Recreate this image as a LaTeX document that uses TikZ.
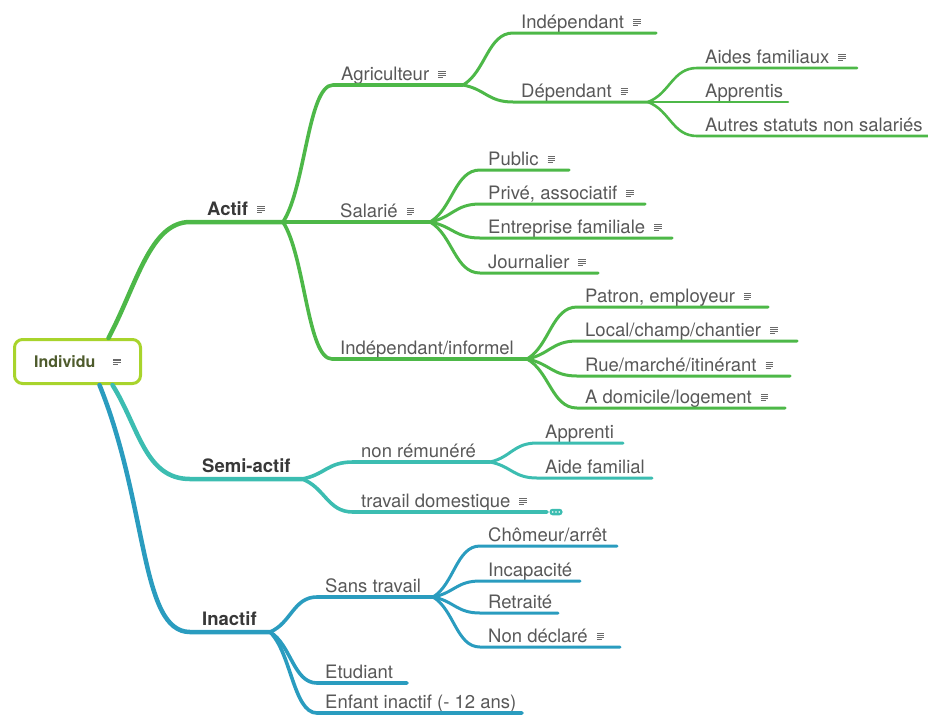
\documentclass[tikz,border=0pt]{standalone}
\usepackage{fontspec}
\setmainfont{TeX Gyre Heros}
\usepackage{tikz}
\usetikzlibrary{calc, positioning}
\definecolor{actgreen}{HTML}{4DB848}
\definecolor{semiteal}{HTML}{3CBDB1}
\definecolor{inablue}{HTML}{2A9CBF}
\definecolor{rootlime}{HTML}{A8D42C}
\definecolor{rootolive}{HTML}{4E5B2C}
\definecolor{labelgray}{HTML}{585858}
\definecolor{notegray}{HTML}{6A6A6A}
\newcommand{\noteicon}{\hspace{9pt}\raisebox{2.5pt}{\color{notegray}\vbox{\hrule width 7.5pt height .9pt\kern .9pt\hrule width 7.5pt height .9pt\kern .9pt\hrule width 7.5pt height .9pt\kern .9pt\hrule width 5pt height .9pt}}}
\newcommand{\topic}[6][]{%
  \coordinate (#2-s) at (#3,#5);
  \coordinate (#2-e) at (#4,#5);
  \node[anchor=base west, #1] (#2) at (#3+8,#5-5) {#6};}
\tikzstyle{every node}=[font=\fontsize{18.5}{22}\selectfont, text=labelgray, inner sep=0pt]
\tikzstyle{main}=[font=\fontsize{18.5}{22}\selectfont\bfseries, text=black!78, yshift=2pt, xshift=4pt]
\tikzstyle{rootbox}=[draw=rootlime, line width=3pt, fill=white, rounded corners=8pt, minimum width=126pt, minimum height=44pt, font=\fontsize{16}{20}\selectfont\bfseries, text=rootolive]
\tikzstyle{lvl1}=[line width=4.5pt, line cap=round, line join=round]
\tikzstyle{lvl2}=[line width=3.6pt, line cap=round, line join=round]
\tikzstyle{lvl3}=[line width=3pt, line cap=round, line join=round]
\tikzstyle{lvl4}=[line width=2.6pt, line cap=round, line join=round]
\tikzstyle{forkcurve}=[to path={let \p1=(\tikztostart), \p2=(\tikztotarget) in .. controls ({\x1+0.45*(\x2-\x1)},{\y1+0.25*(\y2-\y1)}) and ({0.5*(\x1+\x2)},\y2) .. (\tikztotarget)}]

\begin{document}
\begin{tikzpicture}[x=1pt, y=-1pt]
  \useasboundingbox (0,0) rectangle (928,716);
  \node[rootbox] (root) at (77.5,361.5) {Individu\hspace{9pt}\noteicon};

  \topic[main, xshift=5pt]{actif}{190}{283}{222}{Actif\noteicon}
  \topic[main]{semi}{190}{302}{479}{Semi-actif}
  \topic[main]{inactif}{190}{270}{632}{Inactif}

  \topic{agri}{333}{463}{85}{Agriculteur\noteicon}
  \topic{salarie}{332}{430}{222}{Salarié\noteicon}
  \topic{indinf}{332}{527}{359}{Indépendant/informel}
  \topic{indep}{513}{656}{33}{Indépendant\noteicon}
  \topic{depend}{513}{648}{102}{Dépendant\noteicon}
  \topic{aides}{697}{857}{68}{Aides familiaux\noteicon}
  \topic{apprentis}{697}{788}{102}{Apprentis}
  \topic{autres}{697}{928}{136}{Autres statuts non salariés}
  \topic{public}{480}{569}{170}{Public\noteicon}
  \topic{prive}{480}{645}{204}{Privé, associatif\noteicon}
  \topic{entreprise}{480}{672}{238}{Entreprise familiale\noteicon}
  \topic{journalier}{480}{598}{273}{Journalier\noteicon}
  \topic{patron}{577}{768}{307}{Patron, employeur\noteicon}
  \topic{local}{577}{797}{341}{Local/champ/chantier\noteicon}
  \topic{rue}{577}{790}{376}{Rue/marché/itinérant\noteicon}
  \topic{domicile}{577}{785}{408}{A domicile/logement\noteicon}

  \topic{nonrem}{353}{490}{462}{non rémunéré}
  \topic{travdom}{353}{547}{512}{travail domestique\noteicon}
  \topic{apprenti}{537}{623}{443}{Apprenti}
  \topic{aidefam}{537}{652}{478}{Aide familial}

  \topic{sanstrav}{317}{433}{597}{Sans travail}
  \topic{etudiant}{317}{407}{683}{Etudiant}
  \topic{enfant}{317}{522}{713}{Enfant inactif (- 12 ans)}
  \topic{chomeur}{480}{617}{546}{Chômeur/arrêt}
  \topic{incap}{480}{580}{581}{Incapacité}
  \topic{retraite}{480}{558}{613}{Retraité}
  \topic{nondecl}{480}{620}{647}{Non déclaré\noteicon}

  \draw[actgreen, lvl1] ([xshift=31pt]root.north) .. controls +(-62:60) and +(-40,0) .. (actif-s) -- (actif-e);
  \draw[semiteal, lvl1] ([xshift=35pt]root.south) .. controls +(58:50) and +(-45,0) .. (semi-s) -- (semi-e);
  \draw[inablue, lvl1] ([xshift=22pt]root.south) .. controls +(68:130) and +(-50,0) .. (inactif-s) -- (inactif-e);

  \foreach \c in {agri, salarie, indinf}
    \draw[actgreen, lvl2] (actif-e) to[forkcurve] (\c-s) -- (\c-e);
  \foreach \c in {indep, depend}
    \draw[actgreen, lvl3] (agri-e) to[forkcurve] (\c-s) -- (\c-e);
  \foreach \c in {aides, apprentis, autres}
    \draw[actgreen, lvl4] (depend-e) to[forkcurve] (\c-s) -- (\c-e);
  \foreach \c in {public, prive, entreprise, journalier}
    \draw[actgreen, lvl3] (salarie-e) to[forkcurve] (\c-s) -- (\c-e);
  \foreach \c in {patron, local, rue, domicile}
    \draw[actgreen, lvl3] (indinf-e) to[forkcurve] (\c-s) -- (\c-e);

  \foreach \c in {nonrem, travdom}
    \draw[semiteal, lvl2] (semi-e) to[forkcurve] (\c-s) -- (\c-e);
  \foreach \c in {apprenti, aidefam}
    \draw[semiteal, lvl3] (nonrem-e) to[forkcurve] (\c-s) -- (\c-e);
  \node[fill=semiteal, rounded corners=3pt, minimum width=13pt, minimum height=6.5pt] (more) at (556,512) {};
  \foreach \d in {-3.2,0,3.2}
    \fill[white] ([xshift=\d pt]more.center) circle (0.9pt);

  \foreach \c in {sanstrav, etudiant, enfant}
    \draw[inablue, lvl2] (inactif-e) to[forkcurve] (\c-s) -- (\c-e);
  \foreach \c in {chomeur, incap, retraite, nondecl}
    \draw[inablue, lvl3] (sanstrav-e) to[forkcurve] (\c-s) -- (\c-e);
\end{tikzpicture}
\end{document}
